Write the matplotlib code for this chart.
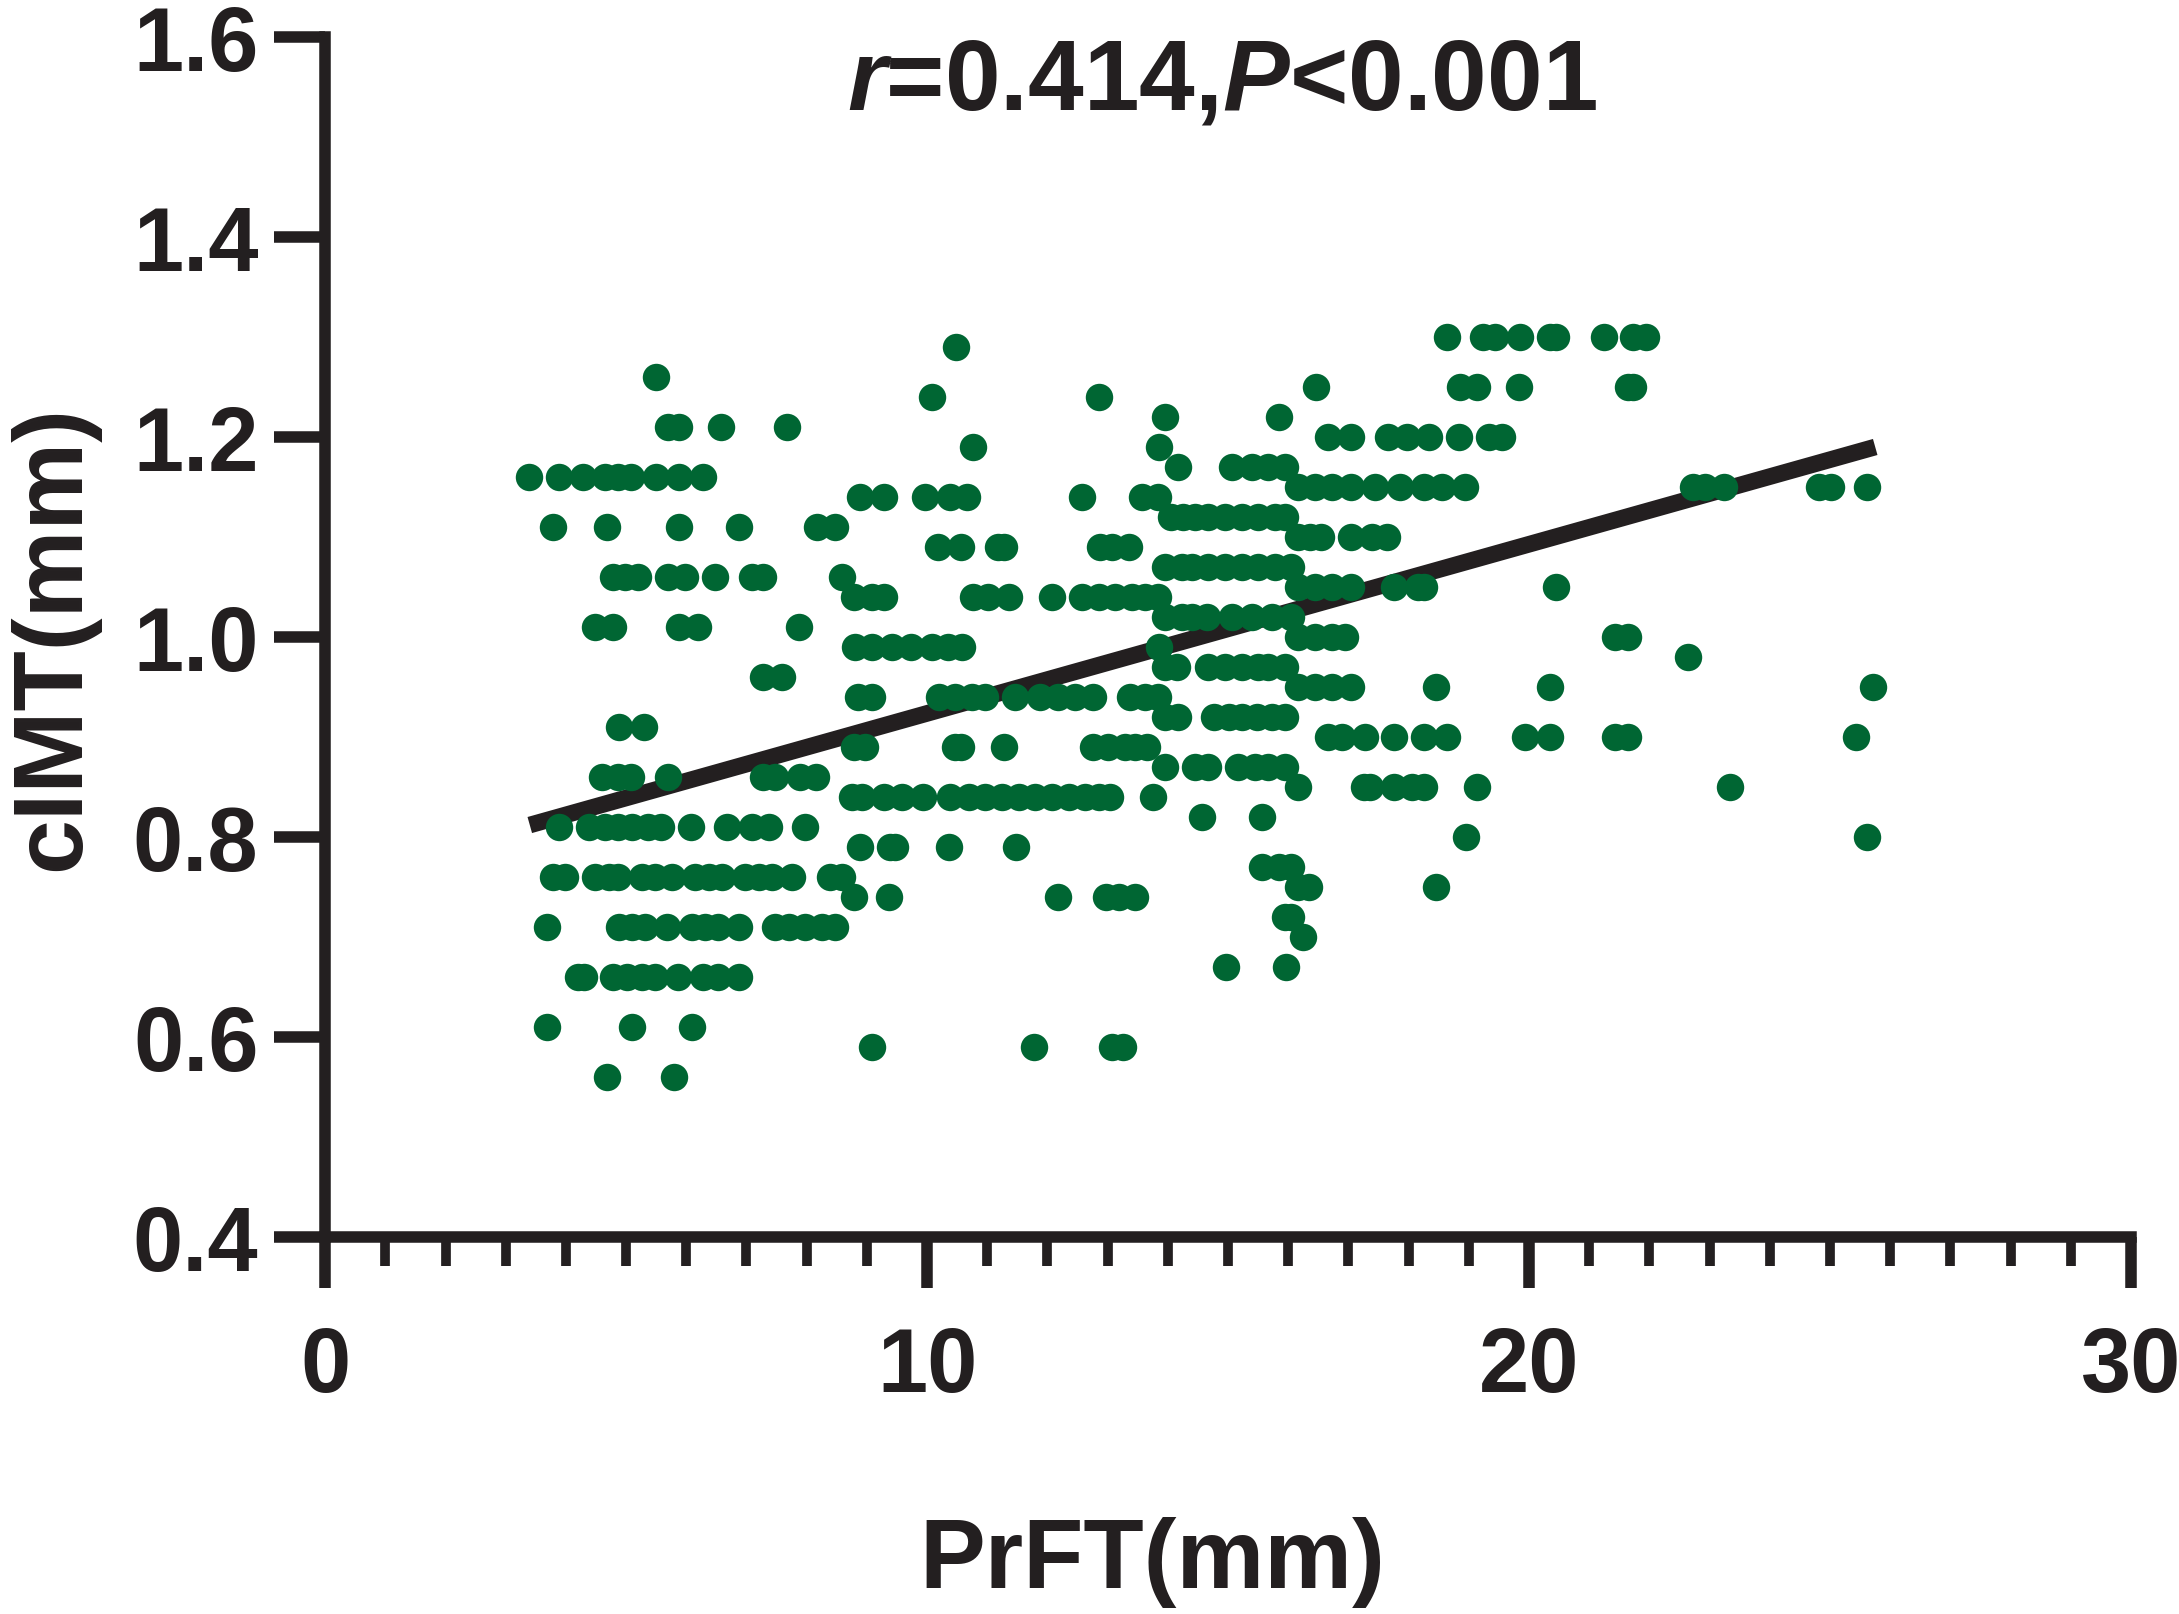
import numpy as np
import matplotlib
matplotlib.use("Agg")
from matplotlib import pyplot as plt
from matplotlib.ticker import MultipleLocator

# cIMT values (rows of the scatter) and the PrFT values found on each row
cimt_levels = [1.30, 1.29, 1.26, 1.25, 1.24, 1.22, 1.21, 1.20, 1.19, 1.17,
               1.16, 1.15, 1.14, 1.12, 1.11, 1.10, 1.09, 1.07, 1.06, 1.05,
               1.04, 1.02, 1.01, 1.00, 0.99, 0.98, 0.97, 0.96, 0.95, 0.94,
               0.92, 0.91, 0.90, 0.89, 0.87, 0.86, 0.85, 0.84, 0.82, 0.81,
               0.80, 0.79, 0.77, 0.76, 0.75, 0.74, 0.72, 0.71, 0.70, 0.67,
               0.66, 0.61, 0.59, 0.56]
pft_by_level = [
    [18.64, 19.24, 19.44, 19.85, 20.35, 20.44, 21.24, 21.73, 21.94],
    [10.48],
    [5.49],
    [16.46, 18.85, 19.13, 19.84, 21.64, 21.73],
    [10.08, 12.86],
    [13.96, 15.85],
    [5.69, 5.88, 6.58, 7.68],
    [16.66, 17.04, 17.65, 17.98, 18.33, 18.84, 19.34, 19.55],
    [10.77, 13.86],
    [14.16, 15.06, 15.39, 15.67, 15.95],
    [3.39, 3.89, 4.29, 4.65, 4.87, 5.08, 5.49, 5.88, 6.28],
    [16.16, 16.45, 16.72, 17.05, 17.44, 17.85, 18.26, 18.55, 18.94,
     22.73, 22.92, 23.23, 24.82, 25.02, 25.62],
    [8.88, 9.28, 9.97, 10.38, 10.67, 12.57, 13.57, 13.84],
    [14.06, 14.25, 14.45, 14.67, 14.95, 15.23, 15.50, 15.78, 15.95],
    [3.79, 4.69, 5.88, 6.88, 8.17, 8.47],
    [16.16, 16.36, 16.55, 17.05, 17.39, 17.64],
    [10.18, 10.57, 11.17, 11.27, 12.87, 13.07, 13.36],
    [13.95, 14.23, 14.40, 14.67, 14.95, 15.23, 15.50, 15.78, 16.05],
    [4.79, 4.98, 5.19, 5.69, 5.98, 6.48, 7.09, 7.28, 8.58],
    [16.16, 16.45, 16.72, 17.04, 17.75, 18.15, 18.25, 20.44],
    [8.78, 9.08, 9.28, 10.77, 11.02, 11.36, 12.07, 12.57, 12.85, 13.12,
     13.40, 13.62, 13.84],
    [13.95, 14.23, 14.40, 14.65, 15.06, 15.39, 15.73, 16.05],
    [4.49, 4.79, 5.88, 6.19, 7.88],
    [16.16, 16.45, 16.72, 16.95, 21.43, 21.64],
    [8.80, 9.08, 9.41, 9.74, 10.08, 10.35, 10.58, 13.86],
    [22.64],
    [13.95, 14.15, 14.67, 14.95, 15.23, 15.50, 15.67, 15.95],
    [7.28, 7.59],
    [16.16, 16.45, 16.72, 17.04, 18.45, 20.34, 25.72],
    [8.86, 9.08, 10.19, 10.47, 10.74, 10.96, 11.46, 11.88, 12.18, 12.46,
     12.76, 13.37, 13.62, 13.84],
    [13.95, 14.16, 14.76, 15.01, 15.23, 15.48, 15.73, 15.95],
    [4.89, 5.29],
    [16.66, 16.89, 17.28, 17.75, 18.25, 18.64, 19.93, 20.34, 21.43, 21.64,
     25.43],
    [8.78, 8.97, 10.47, 10.57, 11.27, 12.76, 13.01, 13.29, 13.46, 13.65],
    [13.96, 14.45, 14.66, 15.17, 15.45, 15.67, 15.95],
    [4.60, 4.87, 5.08, 5.69, 7.28, 7.48, 7.89, 8.16],
    [16.16, 17.25, 17.35, 17.75, 18.05, 18.25, 19.14, 23.33],
    [8.75, 8.92, 9.28, 9.58, 9.94, 10.38, 10.69, 10.96, 11.24, 11.52,
     11.79, 12.07, 12.35, 12.62, 12.85, 13.04, 13.76],
    [14.56, 15.56],
    [3.89, 4.39, 4.65, 4.87, 5.09, 5.37, 5.58, 6.08, 6.68, 7.09, 7.38, 7.97],
    [18.95, 25.62],
    [8.88, 9.39, 9.47, 10.37, 11.47],
    [15.56, 15.84, 16.05],
    [3.79, 3.99, 4.49, 4.71, 4.87, 5.26, 5.48, 5.76, 6.15, 6.37, 6.59,
     6.98, 7.20, 7.42, 7.76, 8.39, 8.58],
    [16.16, 16.34, 18.45],
    [8.78, 9.37, 12.17, 12.97, 13.18, 13.46],
    [15.95, 16.05],
    [3.69, 4.89, 5.09, 5.32, 5.68, 6.09, 6.31, 6.53, 6.87, 7.48, 7.70,
     7.97, 8.25, 8.47],
    [16.25],
    [14.96, 15.96],
    [4.20, 4.30, 4.79, 5.01, 5.26, 5.48, 5.87, 6.28, 6.53, 6.88],
    [3.69, 5.09, 6.09],
    [9.08, 11.77, 13.07, 13.26],
    [4.69, 5.79],
]

# fitted regression line (end points as shown)
fit_x = [3.4, 25.75]
fit_y = [0.812, 1.19]

x_ticks = [0, 10, 20, 30]
y_ticks = [0.4, 0.6, 0.8, 1.0, 1.2, 1.4, 1.6]

pft = np.concatenate([np.array(v) for v in pft_by_level])
cimt = np.repeat(cimt_levels, [len(v) for v in pft_by_level])

ink = "#231f20"
green = "#006633"

plt.rcParams['font.family'] = ['Liberation Sans', 'DejaVu Sans']
plt.rcParams['font.weight'] = 'bold'
plt.rcParams['mathtext.fontset'] = 'custom'
plt.rcParams['mathtext.it'] = 'Liberation Sans:italic:bold'
plt.rcParams['mathtext.rm'] = 'Liberation Sans:bold'
plt.rcParams['text.color'] = ink

fig = plt.figure(figsize=(21.79, 16.15), dpi=100)
ax = fig.add_axes([0.1492, 0.2334, 0.9780 - 0.1492, 0.9765 - 0.2334])

ax.plot(fit_x, fit_y, color=ink, lw=12, solid_capstyle='butt', zorder=2)
ax.scatter(pft, cimt, s=390, color=green, linewidths=0, zorder=3)

ax.set_xlim(0, 30)
ax.set_ylim(0.4, 1.6)
ax.set_xticks(x_ticks)
ax.set_yticks(y_ticks)
ax.set_yticklabels([f"{v:.1f}" for v in y_ticks])
ax.xaxis.set_minor_locator(MultipleLocator(1))

for s in ['top', 'right']:
    ax.spines[s].set_visible(False)
for s in ['left', 'bottom']:
    ax.spines[s].set_linewidth(8.3)
    ax.spines[s].set_color(ink)

ax.tick_params(which='major', length=37, width=8.3, color=ink,
               labelsize=65, labelcolor=ink)
ax.tick_params(axis='x', which='minor', length=21, width=7, color=ink)
ax.tick_params(axis='x', which='major', pad=26)
ax.tick_params(axis='y', which='major', pad=11)

ax.set_xlabel("PrFT(mm)", fontsize=71, fontweight='bold', color=ink)
ax.xaxis.label.set_va('baseline')
ax.xaxis.set_label_coords(0.458, -0.2917)
ax.set_ylabel("cIMT(mm)", fontsize=71, fontweight='bold', color=ink)
ax.yaxis.label.set_va('baseline')
ax.yaxis.set_label_coords(-0.1362, 0.5)

ax.text(14.9, 1.528, r"$r$=0.414,$P$<0.001", fontsize=72, fontweight='bold',
        ha='center', va='baseline', color=ink)

fig.savefig("out.png", dpi=100)
